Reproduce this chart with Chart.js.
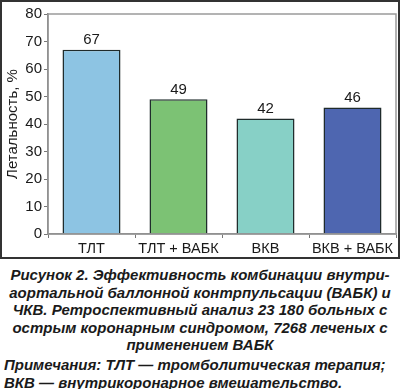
<!DOCTYPE html>
<html><head><meta charset="utf-8">
<script src="https://cdn.jsdelivr.net/npm/chart.js@4"></script>
<style>
html,body{margin:0;padding:0;background:#fff;width:400px;height:389px;overflow:hidden;}
#wrap{position:absolute;left:0;top:0;width:400px;height:260px;}
.cap{position:absolute;left:0;width:400px;font-family:"Liberation Sans",Arial,sans-serif;font-weight:bold;font-style:italic;font-size:15px;color:#1a1a1a;line-height:17.5px;}
</style></head><body>
<div id="wrap"><canvas id="c" width="400" height="260"></canvas></div>
<div class="cap" style="top:266px;text-align:center;">Рисунок 2. Эффективность комбинации внутри-<br>аортальной баллонной контрпульсации (ВАБК) и<br>ЧКВ. Ретроспективный анализ 23 180 больных с<br>острым коронарным синдромом, 7268 леченых с<br>применением ВАБК</div>
<div class="cap" style="top:356px;left:4px;text-align:left;">Примечания: ТЛТ — тромболитическая терапия;<br>ВКВ — внутрикоронарное вмешательство.</div>
<script>
const categories = ["ТЛТ", "ТЛТ + ВАБК", "ВКВ", "ВКВ + ВАБК"];
const mortality = [67, 49, 42, 46];
const barColors = ["#8DC4E3", "#7CC274", "#87D0C6", "#4E66B0"];
const yTitle = "Летальность, %";

const framePlugin = {
  id: "frame",
  afterDraw(chart) {
    const {ctx, chartArea: a} = chart;
    ctx.save();
    ctx.strokeStyle = "#9a9a9a"; ctx.lineWidth = 1.5;
    ctx.strokeRect(a.left, a.top, a.right - a.left, a.bottom - a.top);
    ctx.strokeStyle = "#333"; ctx.lineWidth = 2;
    ctx.strokeRect(1, 1, 398, 257);
    ctx.fillStyle = "#1a1a1a";
    ctx.font = "15px 'Liberation Sans', Arial, sans-serif";
    ctx.textAlign = "center"; ctx.textBaseline = "bottom";
    const meta = chart.getDatasetMeta(0);
    meta.data.forEach((bar, i) => {
      ctx.fillText(String(mortality[i]), bar.x, bar.y - 2);
    });
    ctx.restore();
  }
};

new Chart(document.getElementById("c"), {
  type: "bar",
  data: {
    labels: categories,
    datasets: [{
      data: mortality,
      backgroundColor: barColors,
      borderColor: "#1f2b2b",
      borderWidth: 1.5,
      categoryPercentage: 1,
      barPercentage: 0.667
    }]
  },
  options: {
    responsive: false,
    animation: false,
    devicePixelRatio: 1,
    layout: {padding: {left: 4, top: 14, right: 4, bottom: 2}},
    plugins: {legend: {display: false}, tooltip: {enabled: false}},
    scales: {
      y: {
        min: 0, max: 80,
        ticks: {stepSize: 10, color: "#1a1a1a", font: {family: "'Liberation Sans', Arial, sans-serif", size: 15}, padding: 2},
        grid: {drawOnChartArea: false, drawTicks: true, tickLength: 4, color: "#777"},
        border: {display: true, color: "#777", width: 1.5},
        title: {display: true, text: yTitle, color: "#1a1a1a", font: {family: "'Liberation Sans', Arial, sans-serif", size: 15}, padding: {top: 0, bottom: 0}},
        afterFit(s) { s.width = 44; }
      },
      x: {
        ticks: {color: "#1a1a1a", font: {family: "'Liberation Sans', Arial, sans-serif", size: 14.5}, padding: 2, maxRotation: 0, minRotation: 0, autoSkip: false},
        grid: {drawOnChartArea: false, drawTicks: true, tickLength: 4, color: "#777", offset: true},
        border: {display: true, color: "#777", width: 1.5},
        afterFit(s) { s.height = 24; }
      }
    }
  },
  plugins: [framePlugin]
});
</script>
</body></html>
